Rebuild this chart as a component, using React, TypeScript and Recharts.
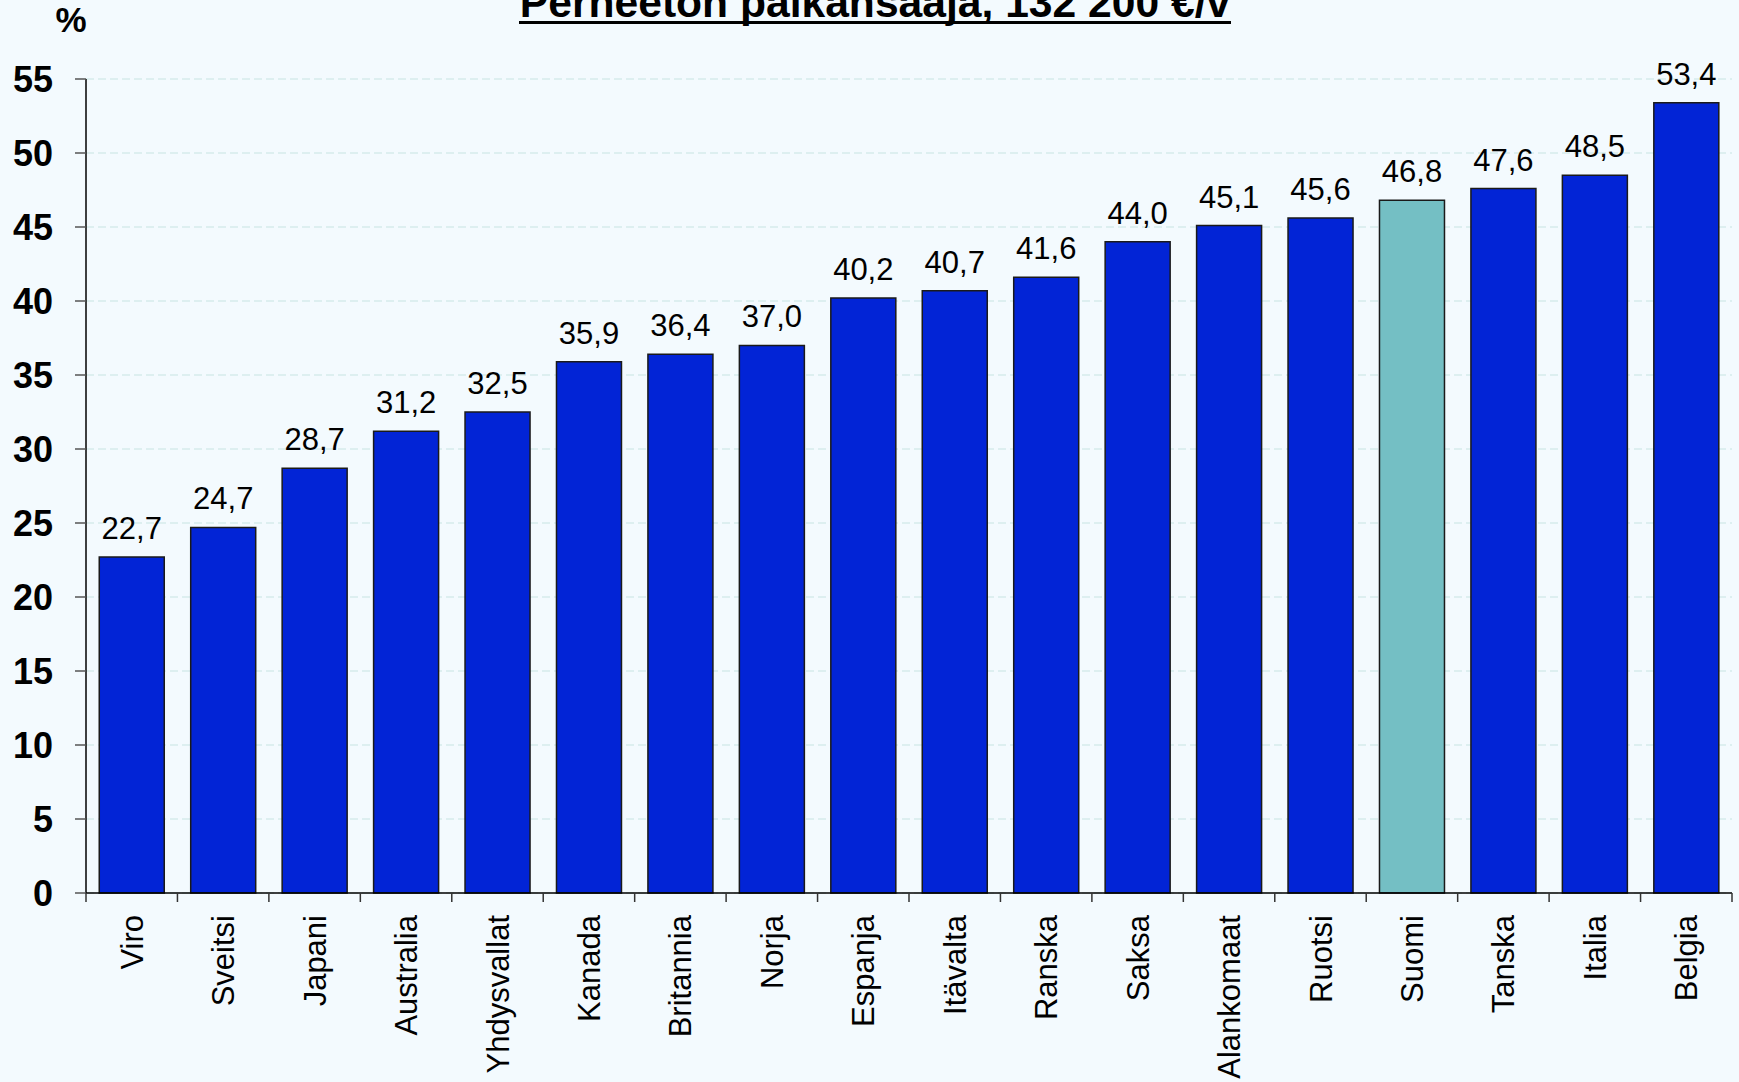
import { BarChart, Bar, XAxis, YAxis, CartesianGrid, Cell, LabelList } from "recharts";

const countries = [
  "Viro", "Sveitsi", "Japani", "Australia", "Yhdysvallat", "Kanada", "Britannia", "Norja", "Espanja",
  "Itävalta", "Ranska", "Saksa", "Alankomaat", "Ruotsi", "Suomi", "Tanska", "Italia", "Belgia",
];
const taxRate = [22.7, 24.7, 28.7, 31.2, 32.5, 35.9, 36.4, 37.0, 40.2, 40.7, 41.6, 44.0, 45.1, 45.6, 46.8, 47.6, 48.5, 53.4];
const highlight = "Suomi";
const yTicks = [0, 5, 10, 15, 20, 25, 30, 35, 40, 45, 50, 55];
const title = "Perheetön palkansaaja, 132 200 €/v";

const W = 1739;
const H = 1082;
const FONT = '"Liberation Sans", Arial, sans-serif';
const BG = "#F3FAFE";
const BLUE = "#0224D6";
const TEAL = "#74BFC4";

const PLOT_LEFT = 86;
const PLOT_RIGHT = 1732;
const BAND = (PLOT_RIGHT - PLOT_LEFT) / countries.length;
const TICK_SHIFT = 8; // recharts pushes tick y below the axis by tickSize + tickMargin

const data = countries.map((name, i) => ({ name, value: taxRate[i] }));

// category ticks sit on the band edges, labels run bottom-to-top
function CountryTick(props: any) {
  const { x, y, payload, index } = props;
  const axisY = y - TICK_SHIFT;
  const left = x - BAND / 2;
  return (
    <g>
      <line x1={left} x2={left} y1={axisY} y2={axisY + 9} stroke="#333" strokeWidth={1.5} />
      {index === countries.length - 1 && (
        <line x1={x + BAND / 2} x2={x + BAND / 2} y1={axisY} y2={axisY + 9} stroke="#333" strokeWidth={1.5} />
      )}
      <text
        transform={`translate(${x + 11},${axisY + 22}) rotate(-90)`}
        textAnchor="end"
        fontFamily={FONT}
        fontSize={31}
        fill="#000"
      >
        {payload.value}
      </text>
    </g>
  );
}

export default function App() {
  return (
    <div style={{ position: "absolute", left: 0, top: 0, width: W, height: H, background: BG, overflow: "hidden" }}>
      <svg width={W} height={H} style={{ position: "absolute", left: 0, top: 0 }}>
        <text x={875} y={17} textAnchor="middle" fontFamily={FONT} fontWeight="bold" fontSize={42.6} fill="#000">
          {title}
        </text>
        <rect x={519} y={21} width={712} height={3} fill="#000" />
        <text x={71} y={32} textAnchor="middle" fontFamily={FONT} fontWeight="bold" fontSize={35} fill="#000">
          %
        </text>
      </svg>
      <div style={{ position: "absolute", left: 0, top: 0 }}>
        <BarChart
          width={W}
          height={H}
          data={data}
          margin={{ top: 79, right: W - PLOT_RIGHT, bottom: 0, left: 0 }}
          barCategoryGap="14.5%"
        >
          <CartesianGrid vertical={false} stroke="#D6ECEC" strokeDasharray="8 4" strokeWidth={1.5} />
          <XAxis
            dataKey="name"
            interval={0}
            height={189}
            tickLine={false}
            axisLine={{ stroke: "#000", strokeWidth: 1.5 }}
            tick={<CountryTick />}
          />
          <YAxis
            width={PLOT_LEFT}
            domain={[0, 55]}
            ticks={yTicks}
            interval={0}
            tickSize={11}
            tickMargin={22}
            axisLine={{ stroke: "#000", strokeWidth: 1.5 }}
            tickLine={{ stroke: "#555", strokeWidth: 1.5 }}
            tick={{ fontFamily: FONT, fontWeight: "bold", fontSize: 36, fill: "#000" }}
          />
          <Bar dataKey="value" stroke="#1a1a1a" strokeWidth={1.5} isAnimationActive={false}>
            {data.map((d) => (
              <Cell key={d.name} fill={d.name === highlight ? TEAL : BLUE} />
            ))}
            <LabelList
              dataKey="value"
              position="top"
              offset={18}
              formatter={(v: any) => Number(v).toFixed(1).replace(".", ",")}
              style={{ fontFamily: FONT, fontSize: 31, fill: "#000" }}
            />
          </Bar>
        </BarChart>
      </div>
    </div>
  );
}
